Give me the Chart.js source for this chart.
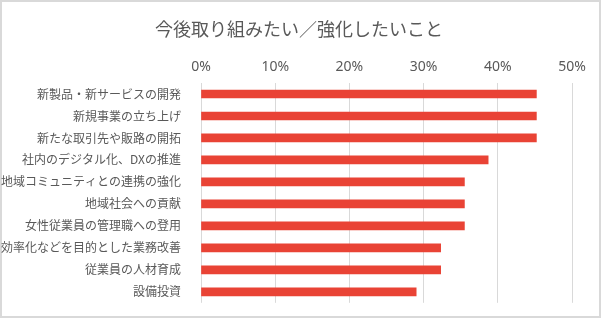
<!DOCTYPE html>
<html>
<head>
<meta charset="utf-8">
<script src="https://cdn.jsdelivr.net/npm/chart.js@4/dist/chart.umd.min.js"></script>
<style>
html,body{margin:0;padding:0;background:#fff;}
#wrap{width:604px;height:322px;position:relative;}
</style>
</head>
<body>
<div id="wrap"><canvas id="c" width="604" height="322"></canvas></div>
<script>
const titleText = '今後取り組みたい／強化したいこと';
const categories = [
  '新製品・新サービスの開発',
  '新規事業の立ち上げ',
  '新たな取引先や販路の開拓',
  '社内のデジタル化、DXの推進',
  '地域コミュニティとの連携の強化',
  '地域社会への貢献',
  '女性従業員の管理職への登用',
  '効率化などを目的とした業務改善',
  '従業員の人材育成',
  '設備投資'
];
const values = [45.2, 45.2, 45.2, 38.7, 35.5, 35.5, 35.5, 32.3, 32.3, 29.0];
const tickMin = 0, tickMax = 50, tickStep = 10;

const frame = {
  id: 'frame',
  beforeDraw(chart) {
    const ctx = chart.ctx;
    ctx.save();
    ctx.fillStyle = '#fff';
    ctx.fillRect(0, 0, chart.width, chart.height);
    ctx.strokeStyle = '#d9d9d9';
    ctx.lineWidth = 2;
    ctx.strokeRect(1, 1, 599, 316);
    ctx.restore();
  },
  afterDraw(chart) {
    const ctx = chart.ctx;
    ctx.save();
    ctx.fillStyle = '#595959';
    ctx.font = '18px "Noto Sans CJK JP", sans-serif';
    ctx.textAlign = 'center';
    ctx.textBaseline = 'middle';
    ctx.fillText(titleText, 299, 29);
    ctx.restore();
  }
};

new Chart(document.getElementById('c'), {
  type: 'bar',
  data: {
    labels: categories,
    datasets: [{
      data: values,
      backgroundColor: '#E94335',
      borderWidth: 0,
      barThickness: 8
    }]
  },
  plugins: [frame],
  options: {
    responsive: false,
    animation: false,
    indexAxis: 'y',
    layout: { padding: { left: 0, right: 32, top: 47.6, bottom: 17 } },
    plugins: {
      legend: { display: false },
      tooltip: { enabled: false },
      title: { display: false }
    },
    scales: {
      x: {
        position: 'top',
        min: tickMin,
        max: tickMax,
        afterFit: s => { s.height = 35.4; },
        ticks: {
          stepSize: tickStep,
          padding: 8,
          color: '#595959',
          font: { family: '"Noto Sans", sans-serif', size: 14 },
          callback: v => v + '%'
        },
        grid: { color: '#d9d9d9', lineWidth: 1, drawTicks: false },
        border: { display: false }
      },
      y: {
        afterFit: s => { s.width = 201; },
        ticks: {
          padding: 12,
          color: '#595959',
          font: { family: '"Noto Sans CJK JP", sans-serif', size: 12 },
          autoSkip: false
        },
        grid: { display: false },
        border: { display: false }
      }
    }
  }
});
</script>
</body>
</html>
